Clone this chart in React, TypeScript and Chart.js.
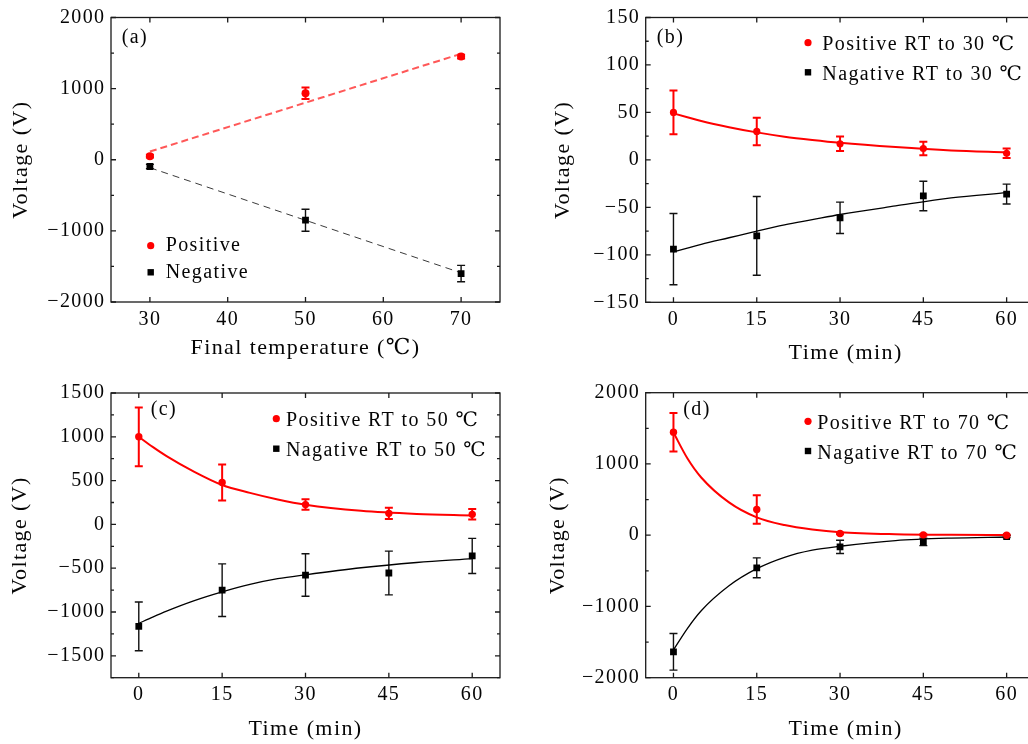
import React, { useEffect, useRef } from 'react';
import { Chart, registerables } from 'chart.js';

Chart.register(...registerables);

const FONT = '"Liberation Serif", "DejaVu Serif", serif';
const TEXT = '#050505';
const RED = '#ff0000';
const BLACK = '#000000';

// ---------- Panel (a) ----------
const finalTemps = [30, 50, 70];
const aPositive = [50, 935, 1450];
const aPositiveErr = [20, 80, 25];
const aNegative = [-95, -850, -1600];
const aNegativeErr = [30, 155, 115];
const aFitTemps = [30, 70];
const aPositiveFit = [115, 1490];
const aNegativeFit = [-112, -1590];
const aXTicks = [30, 40, 50, 60, 70];
const aYTicks = [-2000, -1000, 0, 1000, 2000];

// ---------- shared time axis ----------
const times = [0, 15, 30, 45, 60];
const fitTimes = [0, 2.5, 5, 10, 15, 20, 25, 30, 40, 50, 60];
const timeTicks = [0, 15, 30, 45, 60];

// ---------- Panel (b) ----------
const bPositive = [50, 30, 17, 12, 7];
const bPositiveErr = [23, 14.5, 7.7, 7, 5];
const bNegative = [-94, -80, -61, -38, -36];
const bNegativeErr = [37.5, 41.5, 16.5, 15.5, 10.5];
const bPositiveFit = [49, 45, 41, 34.5, 29, 24.5, 21, 18, 13.5, 10, 8];
const bNegativeFit = [-97, -93, -89, -82, -75, -68.5, -63, -57.5, -48.5, -40, -34.5];
const bYTicks = [-150, -100, -50, 0, 50, 100, 150];

// ---------- Panel (c) ----------
const cPositive = [1000, 479, 226, 126, 115];
const cPositiveErr = [335, 205, 60, 63, 60];
const cNegative = [-1164, -751, -578, -555, -360];
const cNegativeErr = [278, 300, 243, 250, 200];
const cPositiveFit = [1000, 885, 780, 600, 450, 360, 285, 225, 155, 120, 103];
const cNegativeFit = [-1130, -1058, -990, -870, -770, -685, -620, -575, -495, -435, -390];
const cYTicks = [-1500, -1000, -500, 0, 500, 1000, 1500];

// ---------- Panel (d) ----------
const dPositive = [1446, 360, 23, 5, 0];
const dPositiveErr = [270, 200, 10, 8, 5];
const dNegative = [-1637, -458, -164, -94, -19];
const dNegativeErr = [257, 140, 93, 53, 15];
const dPositiveFit = [1440, 1080, 810, 460, 250, 142, 80, 42, 14, 5, 2];
const dNegativeFit = [-1610, -1310, -1060, -710, -470, -310, -210, -155, -75, -40, -25];
const dYTicks = [-2000, -1000, 0, 1000, 2000];

const fmt = (v: number) => (v < 0 ? '\u2212' + Math.abs(v) : String(v));
const pts = (xs: number[], ys: number[]) => xs.map((x, i) => ({ x, y: ys[i] }));

type Spec = {
  left: number; top: number; w: number; h: number;
  pad: { left: number; top: number; right: number; bottom: number };
  yAxisW: number; xAxisH: number;
  xMin: number; xMax: number; xTicks: number[];
  yMin: number; yMax: number; yTicks: number[]; yMinor: number;
  xTitle: string; yTitle: string; xTitlePad: number; yTitlePad: number;
  label: string; labelDx: number; labelDy: number;
  legendX: number; legendRows: number[]; legendTextX: number; legendTextDy: number;
  xs: number[]; pos: number[]; posErr: number[]; neg: number[]; negErr: number[];
  fitX: number[]; posFit: number[]; negFit: number[];
  posLabel: string; negLabel: string; dashed: boolean; markerR: number;
};

const specs: Spec[] = [
  {
    left: 0, top: 0, w: 514, h: 372,
    pad: { left: 0, top: 17, right: 14, bottom: 0 }, yAxisW: 111, xAxisH: 70,
    xMin: 25, xMax: 75, xTicks: aXTicks, yMin: -2000, yMax: 2000, yTicks: aYTicks, yMinor: 500,
    xTitle: 'Final temperature (\u2103)', yTitle: 'Voltage (V)', xTitlePad: 10.8, yTitlePad: 7.8,
    label: '(a)', labelDx: 10.7, labelDy: 20.5,
    legendX: 150.7, legendRows: [245.7, 272.3], legendTextX: 165.7, legendTextDy: 0,
    xs: finalTemps, pos: aPositive, posErr: aPositiveErr, neg: aNegative, negErr: aNegativeErr,
    fitX: aFitTemps, posFit: aPositiveFit, negFit: aNegativeFit,
    posLabel: 'Positive', negLabel: 'Negative', dashed: true, markerR: 4,
  },
  {
    left: 514, top: 0, w: 560, h: 372,
    pad: { left: 0, top: 17.3, right: 28.5, bottom: 0 }, yAxisW: 131.7, xAxisH: 69.7,
    xMin: -5, xMax: 67, xTicks: timeTicks, yMin: -150, yMax: 150, yTicks: bYTicks, yMinor: 25,
    xTitle: 'Time (min)', yTitle: 'Voltage (V)', xTitlePad: 5.1, yTitlePad: 35.8,
    label: '(b)', labelDx: 11, labelDy: 20.2,
    legendX: 294, legendRows: [42.7, 72.3], legendTextX: 308.3, legendTextDy: 2.3,
    xs: times, pos: bPositive, posErr: bPositiveErr, neg: bNegative, negErr: bNegativeErr,
    fitX: fitTimes, posFit: bPositiveFit, negFit: bNegativeFit,
    posLabel: 'Positive RT to 30 \u2103', negLabel: 'Nagative RT to 30 \u2103', dashed: false, markerR: 3.6,
  },
  {
    left: 0, top: 372, w: 514, h: 372,
    pad: { left: 0, top: 21, right: 14, bottom: 0 }, yAxisW: 111, xAxisH: 66.3,
    xMin: -5, xMax: 65, xTicks: timeTicks, yMin: -1750, yMax: 1500, yTicks: cYTicks, yMinor: 250,
    xTitle: 'Time (min)', yTitle: 'Voltage (V)', xTitlePad: 1.1, yTitlePad: 7.1,
    label: '(c)', labelDx: 39.7, labelDy: 16.5,
    legendX: 276.3, legendRows: [46.7, 76.7], legendTextX: 286, legendTextDy: 2.5,
    xs: times, pos: cPositive, posErr: cPositiveErr, neg: cNegative, negErr: cNegativeErr,
    fitX: fitTimes, posFit: cPositiveFit, negFit: cNegativeFit,
    posLabel: 'Positive RT to 50 \u2103', negLabel: 'Nagative RT to 50 \u2103', dashed: false, markerR: 3.7,
  },
  {
    left: 514, top: 372, w: 560, h: 372,
    pad: { left: 0, top: 20.7, right: 28.5, bottom: 0 }, yAxisW: 131.7, xAxisH: 66.3,
    xMin: -5, xMax: 67, xTicks: timeTicks, yMin: -2000, yMax: 2000, yTicks: dYTicks, yMinor: 500,
    xTitle: 'Time (min)', yTitle: 'Voltage (V)', xTitlePad: 1.8, yTitlePad: 30.6,
    label: '(d)', labelDx: 37.6, labelDy: 16.8,
    legendX: 294, legendRows: [49.3, 79], legendTextX: 303.3, legendTextDy: 2.4,
    xs: times, pos: dPositive, posErr: dPositiveErr, neg: dNegative, negErr: dNegativeErr,
    fitX: fitTimes, posFit: dPositiveFit, negFit: dNegativeFit,
    posLabel: 'Positive RT to 70 \u2103', negLabel: 'Nagative RT to 70 \u2103', dashed: false, markerR: 3.7,
  },
];

function makePlugin(spec: Spec) {
  return {
    id: 'panelDecor',
    beforeDraw(chart: any) {
      chart.ctx.letterSpacing = '1.4px';
    },
    beforeDatasetsDraw(chart: any) {
      const { ctx } = chart;
      const xs = chart.scales.x;
      const ys = chart.scales.y;
      chart.data.datasets.forEach((ds: any) => {
        if (!ds.errorBars) return;
        ctx.save();
        ctx.strokeStyle = ds.errorColor;
        ctx.lineWidth = ds.errorWidth;
        ds.data.forEach((p: any, i: number) => {
          const e = ds.errorBars[i];
          const px = xs.getPixelForValue(p.x);
          const y1 = ys.getPixelForValue(p.y + e);
          const y2 = ys.getPixelForValue(p.y - e);
          ctx.beginPath();
          ctx.moveTo(px, y1); ctx.lineTo(px, y2);
          ctx.moveTo(px - 4, y1); ctx.lineTo(px + 4, y1);
          ctx.moveTo(px - 4, y2); ctx.lineTo(px + 4, y2);
          ctx.stroke();
        });
        ctx.restore();
      });
    },
    afterDraw(chart: any) {
      const { ctx, chartArea: ca } = chart;
      const xs = chart.scales.x;
      const ys = chart.scales.y;
      ctx.save();
      ctx.strokeStyle = '#1a1a1a';
      ctx.lineWidth = 1.3;
      ctx.strokeRect(ca.left, ca.top, ca.right - ca.left, ca.bottom - ca.top);
      ctx.beginPath();
      xs.ticks.forEach((t: any) => {
        const px = xs.getPixelForValue(t.value);
        ctx.moveTo(px, ca.bottom); ctx.lineTo(px, ca.bottom - 5);
        ctx.moveTo(px, ca.top); ctx.lineTo(px, ca.top + 5);
      });
      for (let v = spec.yMin; v <= spec.yMax + 1e-9; v += spec.yMinor) {
        const major = spec.yTicks.includes(v);
        const len = major ? 5 : 3;
        const py = ys.getPixelForValue(v);
        ctx.moveTo(ca.left, py); ctx.lineTo(ca.left + len, py);
        ctx.moveTo(ca.right, py); ctx.lineTo(ca.right - len, py);
      }
      ctx.stroke();

      // panel label
      ctx.fillStyle = TEXT;
      ctx.font = `20px ${FONT}`;
      ctx.textAlign = 'left';
      ctx.textBaseline = 'middle';
      ctx.fillText(spec.label, ca.left + spec.labelDx, ca.top + spec.labelDy);

      // legend
      const items = chart.data.datasets.filter((d: any) => d.inLegend);
      items.forEach((d: any, i: number) => {
        const y = spec.legendRows[i];
        ctx.fillStyle = d.backgroundColor;
        if (d.pointStyle === 'circle') {
          ctx.beginPath();
          ctx.arc(spec.legendX, y, 3.6, 0, Math.PI * 2);
          ctx.fill();
        } else {
          ctx.fillRect(spec.legendX - 3.2, y - 3.2, 6.4, 6.4);
        }
        ctx.fillStyle = TEXT;
        ctx.fillText(d.label, spec.legendTextX, y + spec.legendTextDy);
      });
      ctx.restore();
    },
  };
}

function buildConfig(spec: Spec): any {
  const posColorLine = spec.dashed ? 'rgba(255,70,70,0.9)' : RED;
  const negColorLine = spec.dashed ? '#3a3a3a' : BLACK;
  return {
    type: 'scatter',
    data: {
      datasets: [
        {
          type: 'line', data: pts(spec.fitX, spec.posFit), borderColor: posColorLine,
          borderWidth: 2, borderDash: spec.dashed ? [7, 4] : [], pointRadius: 0,
          cubicInterpolationMode: 'monotone', fill: false, order: 2,
        },
        {
          type: 'line', data: pts(spec.fitX, spec.negFit), borderColor: negColorLine,
          borderWidth: spec.dashed ? 1 : 1.3, borderDash: spec.dashed ? [7, 5] : [], pointRadius: 0,
          cubicInterpolationMode: 'monotone', fill: false, order: 2,
        },
        {
          type: 'scatter', label: spec.posLabel, data: pts(spec.xs, spec.pos),
          pointStyle: 'circle', pointRadius: spec.markerR, backgroundColor: RED, borderWidth: 0,
          errorBars: spec.posErr, errorColor: RED, errorWidth: 2, inLegend: true, order: 0,
        },
        {
          type: 'scatter', label: spec.negLabel, data: pts(spec.xs, spec.neg),
          pointStyle: 'rect', pointRadius: 4.8, backgroundColor: BLACK, borderWidth: 0,
          errorBars: spec.negErr, errorColor: '#111', errorWidth: 1.4, inLegend: true, order: 0,
        },
      ],
    },
    options: {
      animation: false,
      responsive: false,
      devicePixelRatio: 1,
      events: [],
      layout: { padding: spec.pad, autoPadding: false },
      plugins: { legend: { display: false }, tooltip: { enabled: false } },
      scales: {
        x: {
          type: 'linear', min: spec.xMin, max: spec.xMax,
          grid: { display: false, drawTicks: false, tickLength: 0 },
          border: { display: false },
          afterBuildTicks: (s: any) => { s.ticks = spec.xTicks.map((v) => ({ value: v })); },
          afterFit: (s: any) => { s.height = spec.xAxisH; },
          ticks: {
            autoSkip: false, maxRotation: 0, padding: 5.5, color: TEXT,
            font: { family: FONT, size: 20 }, callback: (v: any) => fmt(Number(v)),
          },
          title: {
            display: true, text: spec.xTitle, color: TEXT,
            font: { family: FONT, size: 22, lineHeight: 1.2 },
            padding: { top: 0, bottom: spec.xTitlePad },
          },
        },
        y: {
          type: 'linear', min: spec.yMin, max: spec.yMax,
          grid: { display: false, drawTicks: false, tickLength: 0 },
          border: { display: false },
          afterBuildTicks: (s: any) => { s.ticks = spec.yTicks.map((v) => ({ value: v })); },
          afterFit: (s: any) => { s.width = spec.yAxisW; },
          ticks: {
            autoSkip: false, padding: 5.5, color: TEXT,
            font: { family: FONT, size: 20 }, callback: (v: any) => fmt(Number(v)),
          },
          title: {
            display: true, text: spec.yTitle, color: TEXT,
            font: { family: FONT, size: 22, lineHeight: 1.2 },
            padding: { top: spec.yTitlePad, bottom: 0 },
          },
        },
      },
    },
    plugins: [makePlugin(spec)],
  };
}

function Panel({ spec }: { spec: Spec }) {
  const ref = useRef<HTMLCanvasElement>(null);
  useEffect(() => {
    if (!ref.current) return;
    const chart = new Chart(ref.current, buildConfig(spec));
    return () => chart.destroy();
  }, [spec]);
  return (
    <canvas
      ref={ref}
      width={spec.w}
      height={spec.h}
      style={{ position: 'absolute', left: spec.left, top: spec.top, width: spec.w, height: spec.h }}
    />
  );
}

export default function App() {
  return (
    <div
      style={{
        position: 'absolute', left: 0, top: 0, width: 1028, height: 744,
        overflow: 'hidden', background: '#ffffff',
      }}
    >
      {specs.map((s) => (
        <Panel key={s.label} spec={s} />
      ))}
    </div>
  );
}
